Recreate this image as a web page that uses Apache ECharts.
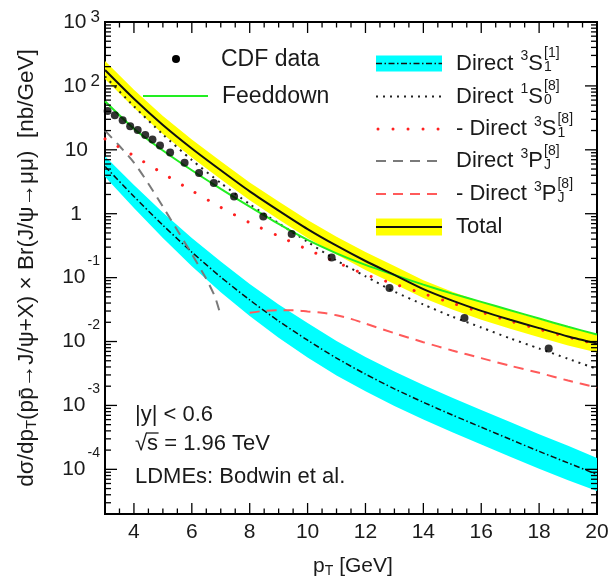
<!DOCTYPE html>
<html><head><meta charset="utf-8">
<script src="https://cdn.jsdelivr.net/npm/echarts@6/dist/echarts.min.js"></script>
<style>html,body{margin:0;padding:0;background:#fff}#c{width:608px;height:583px}</style>
</head><body><div id="c"></div>
<script>
// ---------------- data ----------------
const pT = [3,4,5,6,7,8,9,10,11,12,13,14,15,16,17,18,19,20];
const total     = [177.8,63.1,24.5,10.5,4.79,2.24,1.12,0.575,0.316,0.182,0.110,0.0661,0.0437,0.0302,0.0219,0.0162,0.0120,0.00933];
const totalHigh = [245,87.1,33.8,14.5,6.61,3.09,1.55,0.794,0.436,0.251,0.152,0.0912,0.0603,0.0417,0.0302,0.0224,0.0166,0.0129];
const totalLow  = [128.8,45.7,17.7,7.61,3.47,1.62,0.811,0.417,0.229,0.132,0.0797,0.0479,0.0317,0.0219,0.0159,0.0117,0.00869,0.00676];
const feeddown  = [57.5,21.4,9.77,4.79,2.45,1.29,0.692,0.389,0.240,0.158,0.110,0.0776,0.0562,0.0417,0.0309,0.0229,0.0170,0.0129];
const direct1S08 = [141,47.9,17.4,6.92,3.02,1.41,0.708,0.363,0.186,0.105,0.0603,0.0380,0.0245,0.0166,0.0112,0.00776,0.00537,0.00372];
const negDirect3S18 = [14.8,8.04,4.27,2.29,1.26,0.724,0.447,0.275,0.174,0.112,0.0794,0.0562,0.0398,0.0288,0.0209,0.0155,0.0117,0.00912];
const direct3S11     = [5.50,1.86,0.661,0.251,0.102,0.0447,0.0209,0.0105,0.00550,0.00309,0.00182,0.00112,0.000708,0.000457,0.000295,0.000191,0.000126,0.0000832];
const direct3S11High = [7.94,2.82,1.047,0.417,0.178,0.0794,0.0380,0.0195,0.0102,0.00575,0.00339,0.00209,0.00132,0.000851,0.000550,0.000355,0.000234,0.000151];
const direct3S11Low  = [3.80,1.23,0.417,0.151,0.0589,0.0251,0.0115,0.00562,0.00295,0.00166,0.000977,0.000603,0.000380,0.000245,0.000158,0.000102,0.0000676,0.0000457];
const pT3PJ = [3,3.5,4,4.5,5,5.5,6,6.5,6.8,6.97];
const direct3PJ8 = [19.95,11.48,6.31,2.95,1.288,0.550,0.234,0.0955,0.0501,0.0282];
const pTneg3PJ = [8,8.5,9,9.5,10,10.5,11,11.5,12,13,14,15,16,17,18,19,20];
const negDirect3PJ8 = [0.0282,0.0302,0.0309,0.0309,0.0295,0.0282,0.0257,0.0226,0.0191,0.0135,0.00977,0.00724,0.00550,0.00417,0.00324,0.00245,0.00191];
const cdfPT  = [3.09,3.34,3.61,3.87,4.13,4.39,4.64,4.90,5.25,5.75,6.25,6.76,7.46,8.47,9.45,10.83,12.83,15.42,18.33];
const cdfVal = [40.6,34.6,29.1,23.4,20.5,17.1,14.5,11.7,9.08,6.27,4.34,3.03,1.86,0.908,0.482,0.207,0.069,0.0234,0.00778];
const xTickLabels = [4,6,8,10,12,14,16,18,20];
const yTickLabels = [1e-4,1e-3,1e-2,1e-1,1,10,100,1000];
// ---------------------------------------

const FONT = '"Liberation Sans", Arial, Helvetica, sans-serif';
const TXT = '#1a1a1a';
const mc = document.createElement('canvas').getContext('2d');
function tw(t, s){ mc.font = s + 'px ' + FONT; return mc.measureText(t).width; }

const xMinor = []; for (let v = 3; v <= 20.001; v += 0.5) xMinor.push(+v.toFixed(1));
const yMinor = []; for (let k = -5; k <= 2; k++) for (let m = 2; m <= 9; m++) { const v = m * Math.pow(10, k); if (v >= 2e-5 && v <= 1000) yMinor.push(v); }

const XMIN = 3, XMAX = 20, YMIN = 2e-5, YMAX = 1000;

function band(xs, lo, hi, color, z){
  return {type:'custom', xAxisIndex:0, yAxisIndex:0, z:z, silent:true, clip:true,
    data: xs.map((x,i)=>[x, lo[i], hi[i]]),
    encode:{x:0, y:[1,2]},
    renderItem: function(params, api){
      if (params.dataIndex !== 0) return null;
      const top = xs.map((x,i)=>api.coord([x, hi[i]]));
      const bot = xs.map((x,i)=>api.coord([x, lo[i]])).reverse();
      return {type:'polygon', shape:{points: top.concat(bot)}, style:{fill:color}};
    }};
}
function line(xs, ys, color, width, type, z, cap){
  return {type:'line', xAxisIndex:0, yAxisIndex:0, z:z, silent:true, showSymbol:false, smooth:0.25,
    data: xs.map((x,i)=>[x, ys[i]]),
    lineStyle:{color:color, width:width, type:type, cap: cap || 'butt'}};
}
// inward ticks on all four sides, placed through the axes' own scales
const tickSeries = {type:'custom', xAxisIndex:0, yAxisIndex:0, z:20, silent:true, clip:false,
  data:[[XMIN, YMIN]],
  renderItem: function(params, api){
    const ch = [];
    const pb = api.coord([XMIN, YMIN]), pt = api.coord([XMAX, YMAX]);
    const xl = pb[0], xr = pt[0], yb = pb[1], yt = pt[1];
    function seg(a,b,c,d){ ch.push({type:'line', shape:{x1:a,y1:b,x2:c,y2:d}, style:{stroke:'#000', lineWidth:1.3}}); }
    xMinor.forEach(function(v){
      const x = api.coord([v, YMIN])[0];
      const L = xTickLabels.indexOf(v) >= 0 ? 11 : 5.5;
      seg(x, yb, x, yb - L); seg(x, yt, x, yt + L);
    });
    yMinor.forEach(function(v){
      const y = api.coord([XMIN, v])[1];
      seg(xl, y, xl + 6, y); seg(xr, y, xr - 6, y);
    });
    yTickLabels.forEach(function(v){
      const y = api.coord([XMIN, v])[1];
      seg(xl, y, xl + 12, y); seg(xr, y, xr - 12, y);
    });
    return {type:'group', children:ch};
  }};

// ---------- legend, notes, titles (graphic) ----------
const G = [];
function txt(x, y, t, size, extra){
  G.push(Object.assign({type:'text', x:x, y:y, z:100, style:{text:t, font: size + 'px ' + FONT, fill:TXT, verticalAlign:'middle', align:'left'}}, extra || {}));
}
function gline(x1, y1, x2, y2, color, width, dash, cap){
  G.push({type:'line', z:99, shape:{x1:x1,y1:y1,x2:x2,y2:y2}, style:{stroke:color, lineWidth:width, lineDash:dash||null, lineCap:cap||'butt'}});
}
function label(x, y, pre, supPre, letter, sub, supPost){
  const M = 22, S = 14;
  txt(x, y, pre, M);
  let cx = x + tw(pre, M);
  if (supPre){ txt(cx + 1, y - 7, supPre, S); cx += tw(supPre, S) + 1; }
  if (letter){ txt(cx, y, letter, M); cx += tw(letter, M); }
  if (sub) txt(cx + 1, y + 4, sub, S);
  if (supPost) txt(cx + 1, y - 10, supPost, S);
}
G.push({type:'circle', z:99, shape:{cx:176, cy:59, r:4}, style:{fill:'#000'}});
txt(221, 60, 'CDF data', 23);
gline(143, 96, 208, 96, '#22ee22', 2);
txt(222, 97, 'Feeddown', 23);
const LX1 = 376, LX2 = 442, TX = 456;
const rows = [63.5, 96.5, 129, 161, 194, 227];
G.push({type:'rect', z:98, shape:{x:LX1, y:rows[0]-8, width:LX2-LX1, height:16}, style:{fill:'#00ffff'}});
gline(LX1, rows[0], LX2, rows[0], '#111', 1.5, [6,2.5,1.5,2.5]);
label(TX, rows[0], 'Direct ', '3', 'S', '1', '[1]');
gline(LX1, rows[1], LX2, rows[1], '#222', 2, [2,5]);
label(TX, rows[1], 'Direct ', '1', 'S', '0', '[8]');
gline(LX1 + 2, rows[2], LX2, rows[2], '#ff2020', 3, [0.01,15], 'round');
label(TX, rows[2], '- Direct ', '3', 'S', '1', '[8]');
gline(LX1, rows[3], LX2, rows[3], '#7a7a7a', 2, [10,7]);
label(TX, rows[3], 'Direct ', '3', 'P', 'J', '[8]');
gline(LX1, rows[4], LX2, rows[4], '#ff5a5a', 2, [10,7]);
label(TX, rows[4], '- Direct ', '3', 'P', 'J', '[8]');
G.push({type:'rect', z:98, shape:{x:LX1, y:rows[5]-8.5, width:LX2-LX1, height:17}, style:{fill:'#ffff00'}});
gline(LX1, rows[5], LX2, rows[5], '#111', 2);
txt(TX, rows[5], 'Total', 22);

txt(135, 415, '|y| < 0.6', 22);
txt(135, 444, '\u221As = 1.96 TeV', 22);
{ const w0 = tw('\u221A', 22), w1 = tw('\u221As', 22); gline(135 + w0 - 1, 433, 135 + w1 + 0.5, 433, TXT, 1.3); }
txt(135, 477, 'LDMEs: Bodwin et al.', 22);

G.push({type:'text', z:100, x:353, y:566, style:{
  text:'{n|p}{s|T}{n| [GeV]}', align:'center', verticalAlign:'middle',
  rich:{n:{fontSize:21, fontFamily:FONT, fill:TXT, color:TXT}, s:{fontSize:14, fontFamily:FONT, fill:TXT, color:TXT, padding:[10,0,0,0]}}}});
G.push({type:'text', z:100, x:27, y:268, rotation:Math.PI/2, style:{
  text:'{n|d\u03C3/dp}{s|T}{n|(pp\u0304\u2192J/\u03C8+X) \u00D7 Br(J/\u03C8\u2192\u03BC\u03BC)  [nb/GeV]}', align:'center', verticalAlign:'middle',
  rich:{n:{fontSize:22.5, fontFamily:FONT, fill:TXT, color:TXT}, s:{fontSize:15, fontFamily:FONT, fill:TXT, color:TXT, padding:[10,0,0,0]}}}});

const chart = echarts.init(document.getElementById('c'), null, {renderer:'canvas'});
chart.setOption({
  animation:false,
  backgroundColor:'#fff',
  textStyle:{fontFamily:FONT},
  grid:{left:105, right:11, top:22, bottom:69, containLabel:false, outerBoundsMode:'none',
        show:true, borderColor:'#000', borderWidth:2, backgroundColor:'rgba(0,0,0,0)'},
  xAxis:{type:'value', min:XMIN, max:XMAX, position:'bottom',
    splitLine:{show:false},
    axisLine:{show:true, onZero:false, lineStyle:{color:'#000', width:2}},
    axisTick:{show:false},
    axisLabel:{show:true, customValues:xTickLabels, fontSize:21, color:TXT, margin:8, fontFamily:FONT, showMaxLabel:true, showMinLabel:true}
  },
  yAxis:{type:'log', logBase:10, min:YMIN, max:YMAX, position:'left',
    splitLine:{show:false},
    axisLine:{show:true, onZero:false, lineStyle:{color:'#000', width:2}},
    axisTick:{show:false},
    axisLabel:{show:true, customValues:yTickLabels, margin:5, showMaxLabel:true, showMinLabel:true,
      formatter: function(v){
        const e = Math.round(Math.log10(v));
        if (e === 0) return '{one|1}';
        if (e === 1) return '{ten|10}';
        if (e > 0) return '{b|10}{p|' + e + '}';
        return '{b|10}{m|' + e + '}';
      },
      rich:{
        b:{fontSize:21, fontFamily:FONT, color:TXT},
        ten:{fontSize:21, fontFamily:FONT, color:TXT, padding:[0,12,0,0]},
        one:{fontSize:21, fontFamily:FONT, color:TXT, padding:[0,18,0,0]},
        p:{fontSize:17, fontFamily:FONT, color:TXT, padding:[0,0,10,4]},
        m:{fontSize:14, fontFamily:FONT, color:TXT, padding:[0,0,32,2]}
      }}
  },
  series:[
    band(pT, direct3S11Low, direct3S11High, '#00ffff', 1),
    band(pT, totalLow, totalHigh, '#ffff00', 1),
    line(pT, direct3S11, '#111', 1.5, [6,2.5,1.5,2.5], 3),
    line(pT3PJ, direct3PJ8, '#7a7a7a', 2, [10,7], 3),
    line(pTneg3PJ, negDirect3PJ8, '#ff5a5a', 2, [10,7], 3),
    line(pT, negDirect3S18, '#ff2020', 3, [0.01,15], 4, 'round'),
    line(pT, direct1S08, '#222', 2, [2,5], 4),
    line(pT, feeddown, '#22ee22', 2, 'solid', 5),
    line(pT, total, '#111', 2, 'solid', 6),
    {type:'scatter', xAxisIndex:0, yAxisIndex:0, z:7, silent:true, symbol:'circle', symbolSize:8,
     itemStyle:{color:'#000'}, data: cdfPT.map((x,i)=>[x, cdfVal[i]])},
    tickSeries
  ],
  graphic: G
});
</script>
</body></html>
